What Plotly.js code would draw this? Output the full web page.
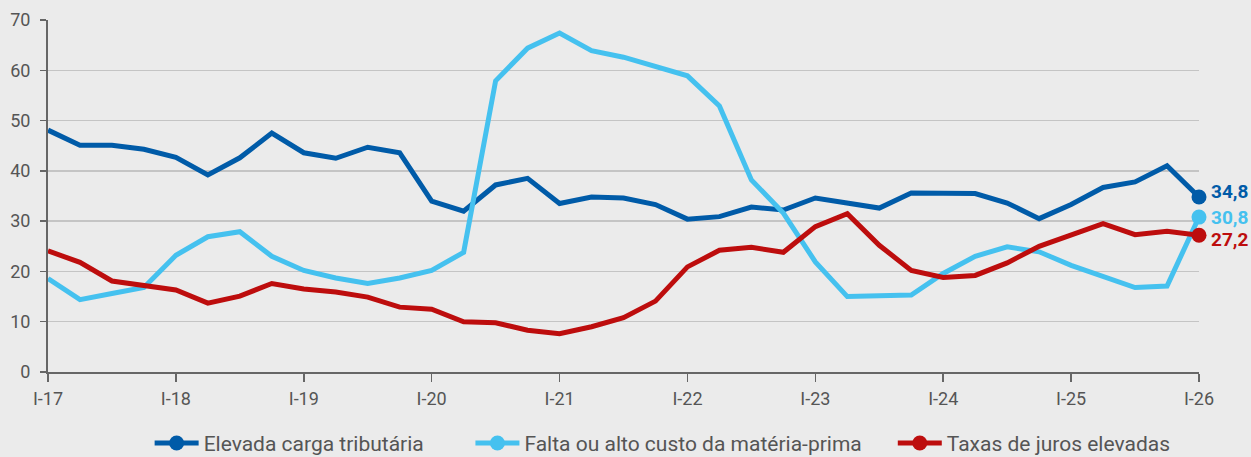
<!DOCTYPE html>
<html>
<head>
<meta charset="utf-8">
<script src="https://cdn.plot.ly/plotly-3.0.1.min.js"></script>
<style>
  html, body { margin: 0; padding: 0; background: #ebebeb; }
  #chart { width: 1251px; height: 457px; }
</style>
</head>
<body>
<div id="chart"></div>
<script>
// Quarterly periods I-17 ... I-26
const quarters = [];
const years = ["17","18","19","20","21","22","23","24","25","26"];
const romans = ["I","II","III","IV"];
years.forEach(function (yy, k) {
  romans.forEach(function (r, q) {
    if (k < years.length - 1 || q === 0) quarters.push(r + "-" + yy);
  });
});
const yearTicks = years.map(function (yy) { return "I-" + yy; });

const seriesNames = ["Elevada carga tributária", "Falta ou alto custo da matéria-prima", "Taxas de juros elevadas"];

const cargaTributaria = [48.1, 45.1, 45.1, 44.3, 42.7, 39.2, 42.6, 47.5, 43.6, 42.5, 44.7, 43.6,
  34.0, 32.0, 37.2, 38.5, 33.5, 34.8, 34.6, 33.3, 30.4, 30.9, 32.8, 32.2,
  34.6, 33.7, 32.6, 35.6, 35.6, 35.5, 33.6, 30.5, 33.3, 36.7, 37.8, 41.0, 34.8];

const materiaPrima = [18.6, 14.4, 15.6, 16.8, 23.2, 26.9, 27.9, 23.0, 20.2, 18.7, 17.6, 18.7,
  20.2, 23.8, 57.9, 64.4, 67.4, 63.9, 62.6, 60.7, 58.9, 52.9, 38.2, 31.6,
  21.9, 15.0, 15.1, 15.3, 19.6, 23.0, 24.9, 23.9, 21.2, 18.9, 16.8, 17.1, 30.8];

const jurosElevados = [24.1, 21.8, 18.1, 17.1, 16.3, 13.7, 15.1, 17.6, 16.5, 15.9, 14.9, 12.9,
  12.5, 10.0, 9.8, 8.3, 7.6, 9.0, 10.8, 14.1, 20.9, 24.2, 24.8, 23.8,
  28.9, 31.5, 25.2, 20.2, 18.8, 19.2, 21.7, 25.0, 27.2, 29.5, 27.3, 28.0, 27.2];

const colors = ["#005ba8", "#45c1ef", "#bd0d0d"];
const FONT = 'Roboto, "Noto Sans", sans-serif';
// style only: vertical nudges of the end labels and legend spacing padding
const labelShift = [6, 0, -4];
const legendPad = [8, 5, 0];
const NBSP = "\u00a0";

const allSeries = [cargaTributaria, materiaPrima, jurosElevados];
const traces = [];
const annotations = [];
allSeries.forEach(function (vals, i) {
  traces.push({
    type: "scatter", mode: "lines", x: quarters, y: vals,
    line: { color: colors[i], width: 5 },
    showlegend: false, hoverinfo: "x+y", cliponaxis: false
  });
  const last = vals.length - 1;
  traces.push({
    type: "scatter", mode: "lines+markers",
    x: [quarters[last]], y: [vals[last]],
    name: seriesNames[i] + NBSP.repeat(legendPad[i]),
    line: { color: colors[i], width: 5 },
    marker: { color: colors[i], size: 15 },
    cliponaxis: false
  });
  annotations.push({
    x: quarters[last], y: vals[last], xref: "x", yref: "y",
    text: "<b>" + vals[last].toFixed(1).replace(".", ",") + "</b>",
    showarrow: false, xanchor: "left", yanchor: "middle", xshift: 10, yshift: labelShift[i],
    font: { family: FONT, size: 19, color: colors[i] }
  });
});

const layout = {
  width: 1251, height: 457,
  paper_bgcolor: "#ebebeb", plot_bgcolor: "#ebebeb",
  margin: { l: 48, r: 52, t: 20, b: 85 },
  font: { family: FONT, size: 18, color: "#555555" },
  xaxis: {
    type: "category", categoryorder: "array", categoryarray: quarters,
    range: [0, quarters.length - 1],
    tickmode: "array", tickvals: yearTicks, ticktext: yearTicks,
    showgrid: false, zeroline: false,
    showline: true, linecolor: "#666666", linewidth: 2,
    ticks: "outside", ticklen: 8, tickwidth: 1.5, tickcolor: "#666666",
    ticklabelstandoff: 1,
    tickfont: { family: FONT, size: 18, color: "#555555" }
  },
  yaxis: {
    range: [0, 70], dtick: 10, tick0: 0,
    showgrid: true, gridcolor: "#c4c4c4", gridwidth: 1.5,
    zeroline: false,
    showline: true, linecolor: "#666666", linewidth: 2,
    ticks: "outside", ticklen: 6, tickwidth: 1.5, tickcolor: "#666666",
    ticklabelstandoff: 6,
    tickfont: { family: FONT, size: 18, color: "#555555" }
  },
  legend: {
    orientation: "h", x: 0.534, xanchor: "center",
    yref: "container", y: 0.03, yanchor: "middle",
    font: { family: FONT, size: 21, color: "#555555" },
    bgcolor: "rgba(0,0,0,0)", itemwidth: 44
  },
  annotations: annotations,
  showlegend: true
};

Plotly.newPlot("chart", traces, layout, { displayModeBar: false, staticPlot: true });
</script>
</body>
</html>
